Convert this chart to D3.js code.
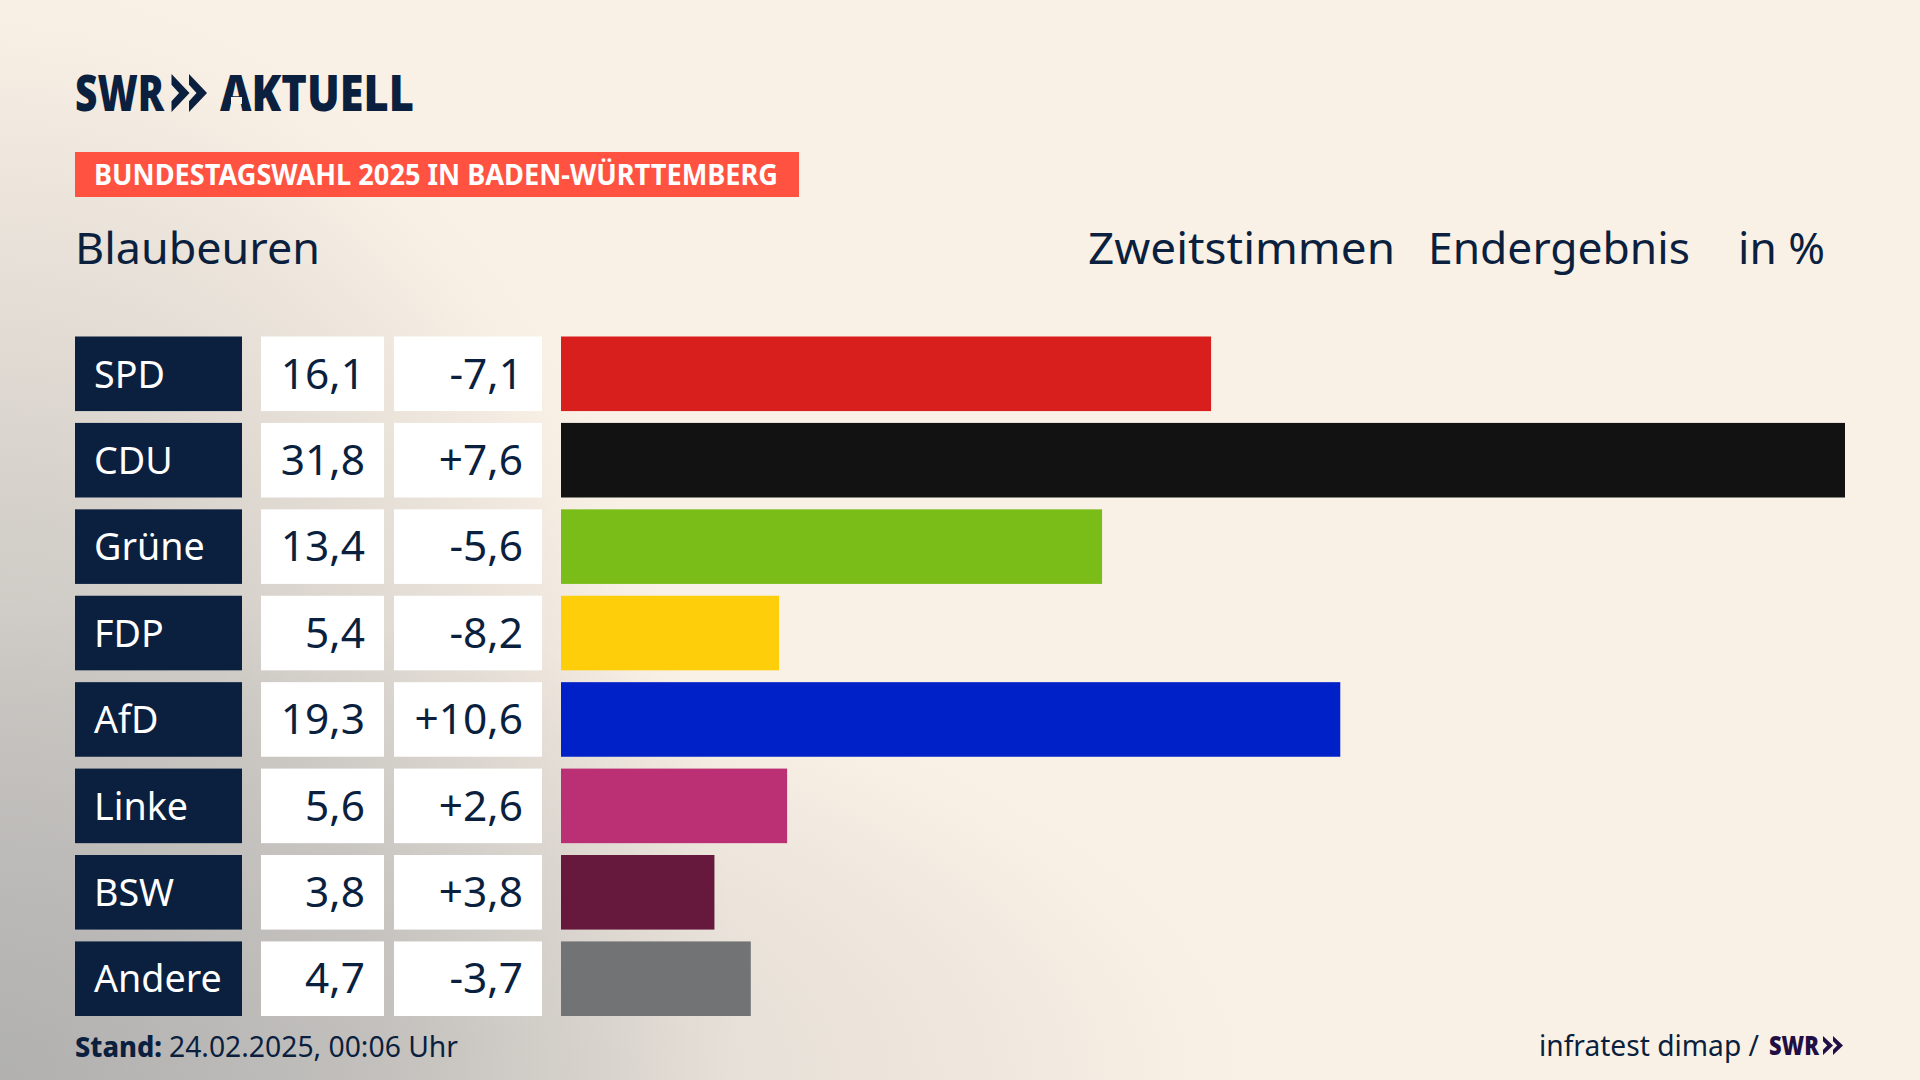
<!DOCTYPE html>
<html lang="de"><head><meta charset="utf-8">
<script src="https://cdnjs.cloudflare.com/ajax/libs/d3/7.9.0/d3.min.js"></script>
<style>html,body{margin:0;padding:0;background:#faf1e6;overflow:hidden}svg{display:block}</style>
</head><body><svg id="c" width="1920" height="1080"></svg>
<script>
const parties = ["SPD","CDU","Grüne","FDP","AfD","Linke","BSW","Andere"];
const shares = [16.1,31.8,13.4,5.4,19.3,5.6,3.8,4.7];
const diffs = [-7.1,7.6,-5.6,-8.2,10.6,2.6,3.8,-3.7];
const colours = ["#d81f1e","#121212","#7abd19","#ffce0a","#0020c8","#bb3075","#66193d","#727375"];
const brand = "SWR", brandSub = "AKTUELL";
const banner = "BUNDESTAGSWAHL 2025 IN BADEN-WÜRTTEMBERG";
const place = "Blaubeuren";
const heads = [["Zweitstimmen",1088,1395],["Endergebnis",1428,1690],["in %",1738,1825]];
const standLabel = "Stand:", standValue = "24.02.2025, 00:06 Uhr", source = "infratest dimap /";

const NAVY="#0b1f3f", FONT="'Noto Sans',sans-serif", CREAM="#faf1e6";
const svg=d3.select("#c");
const defs=svg.append("defs");
function glow(id,rx,ry,stops){
  const g=defs.append("radialGradient").attr("id",id).attr("gradientUnits","userSpaceOnUse")
    .attr("cx",0).attr("cy",0).attr("r",1)
    .attr("gradientTransform",`translate(0,1080) scale(${rx},${ry})`);
  stops.forEach(s=>g.append("stop").attr("offset",s[0]).attr("stop-color","#a4a5a6").attr("stop-opacity",s[1]));
}
glow("bgLeft",740,1100,[[0,.7],[.5,.45],[.77,.2],[.93,.05],[1,0]]);
glow("bgBottom",1250,480,[[0,.5],[.5,.27],[.8,.12],[1,0]]);
svg.append("rect").attr("width",1920).attr("height",1080).attr("fill",CREAM);
svg.append("rect").attr("width",1920).attr("height",1080).attr("fill","url(#bgLeft)");
svg.append("rect").attr("width",1920).attr("height",1080).attr("fill","url(#bgBottom)");

const x=d3.scaleLinear().domain([0,d3.max(shares)]).range([561,1845]);
const y=d3.scaleBand().domain(parties).range([336.5,1016]).paddingInner(.137);
const fmt=d3.formatLocale({decimal:",",thousands:".",grouping:[3],currency:["","€"],minus:"-"});
const fv=fmt.format(".1f"), fd=fmt.format("+.1f");

function text(s,px,py,size,fill,o={}){
  const t=svg.append("text").attr("x",px).attr("y",py).attr("font-family",o.font||FONT)
   .attr("font-size",size).attr("font-weight",o.weight||400).attr("fill",fill)
   .attr("text-anchor",o.anchor||"start").text(s);
  const w=o.width||t.node().getComputedTextLength()*(o.k||1);
  t.attr("textLength",w).attr("lengthAdjust","spacingAndGlyphs");
  return t;
}
function chevrons(px,top,h,w,step,fill){
  const p=d3.path();
  [0,1].forEach(i=>{const a=px+i*step;
    p.moveTo(a,top);p.lineTo(a+w,top+h/2);p.lineTo(a,top+h);
    p.lineTo(a,top+h*.72);p.lineTo(a+w*.42,top+h/2);p.lineTo(a,top+h*.28);p.closePath();});
  svg.append("path").attr("d",p.toString()).attr("fill",fill);
}
// logo
text(brand,75,111,50,NAVY,{weight:900,width:89});
chevrons(171.5,74,38,18,17.5,NAVY);
text(brandSub,220,111,50,NAVY,{weight:900,width:194});
svg.append("rect").attr("x",231).attr("y",97).attr("width",11).attr("height",7).attr("fill",CREAM);
// banner
svg.append("rect").attr("x",75).attr("y",152).attr("width",724).attr("height",45).attr("fill","#ff5240");
text(banner,94,185,29,"#fff",{weight:700,width:684});
// heading
text(place,75,264,44,NAVY,{width:245});
heads.forEach(h=>text(h[0],h[1],264,44,NAVY,{width:h[2]-h[1]}));
// rows
const rows=svg.selectAll("g.r").data(parties.map((p,i)=>({p,s:shares[i],d:diffs[i],c:colours[i]}))).join("g").attr("class","r");
rows.append("rect").attr("x",75).attr("width",167).attr("y",d=>y(d.p)).attr("height",y.bandwidth()).attr("fill",NAVY);
rows.append("rect").attr("x",261).attr("width",123).attr("y",d=>y(d.p)).attr("height",y.bandwidth()).attr("fill","#fff");
rows.append("rect").attr("x",394).attr("width",148).attr("y",d=>y(d.p)).attr("height",y.bandwidth()).attr("fill","#fff");
rows.append("rect").attr("x",x(0)).attr("width",d=>x(d.s)-x(0)).attr("y",d=>y(d.p)).attr("height",y.bandwidth()).attr("fill",d=>d.c);
rows.each(d=>{
  const b=y(d.p)+51;
  text(d.p,94,b,38,"#fff",{k:.99});
  text(fv(d.s),365,b+1,42,NAVY,{anchor:"end",k:1.01});
  text(fd(d.d),523,b+1,42,NAVY,{anchor:"end",k:1.01});
});
// footer
text(standLabel,75,1057,29,NAVY,{weight:800,width:87});
text(standValue,169,1057,29,NAVY,{width:289});
text(source,1539,1056,29,NAVY,{width:220});
text(brand,1769,1055,27,"#1f0f45",{weight:900,width:50});
chevrons(1823,1036,19,10,10,"#1f0f45");
</script></body></html>
